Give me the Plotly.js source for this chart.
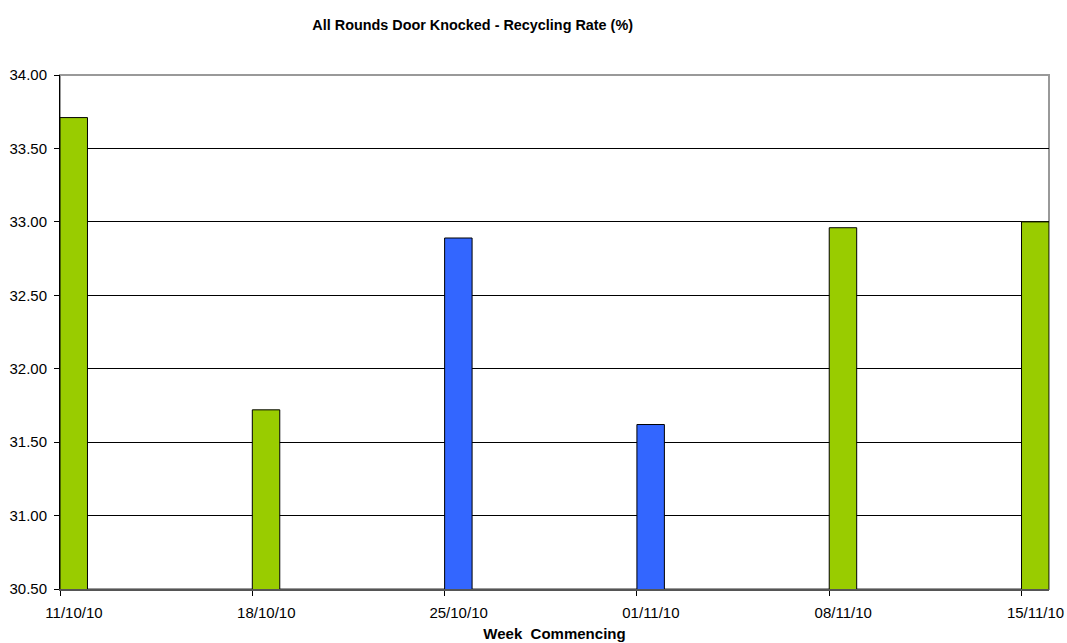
<!DOCTYPE html>
<html>
<head>
<meta charset="utf-8">
<script src="https://cdn.plot.ly/plotly-3.0.1.min.js"></script>
<style>html,body{margin:0;padding:0;background:#fff;}#chart{width:1067px;height:643px;}</style>
</head>
<body>
<div id="chart"></div>
<script>
const weeks = ['2010-10-11','2010-10-18','2010-10-25','2010-11-01','2010-11-08','2010-11-15'];
const greenValues = [33.71, 31.72, null, null, 32.96, 33.00];
const blueValues = [null, null, 32.89, 31.62, null, null];
const DAY = 86400000;

const traces = [
  {type:'bar', x:weeks, y:greenValues, offset:0, width:weeks.map(()=>DAY),
   marker:{color:'#99CC00', line:{color:'#000', width:1}}, hoverinfo:'skip'},
  {type:'bar', x:weeks, y:blueValues, offset:0, width:weeks.map(()=>DAY),
   marker:{color:'#3366FF', line:{color:'#000', width:1}}, hoverinfo:'skip'}
];

const layout = {
  width:1067, height:643,
  margin:{l:60, r:18, t:75, b:54},
  paper_bgcolor:'#fff', plot_bgcolor:'#fff',
  showlegend:false, barmode:'overlay',
  font:{family:'Liberation Sans, Arial, sans-serif', size:15, color:'#000'},
  title:{text:'<b>All Rounds Door Knocked - Recycling Rate (%)</b>', x:0.443, xanchor:'center', y:0.961, yanchor:'middle',
    font:{size:14.4, family:'Liberation Sans, Arial, sans-serif', color:'#000'}},
  xaxis:{type:'date', range:['2010-10-11','2010-11-16'], tick0:'2010-10-11', dtick:7*DAY, tickformat:'%d/%m/%y',
    ticks:'outside', ticklen:5, tickcolor:'#000', showgrid:false, zeroline:false,
    showline:true, linecolor:'#555', linewidth:2, ticklabelstandoff:4, ticklabelshift:14,
    tickfont:{size:15},
    title:{text:'<b>Week  Commencing</b>', standoff:8, font:{size:15}}},
  yaxis:{range:[30.5,34.0], dtick:0.5, tickformat:'.2f', ticks:'outside', ticklen:5, tickcolor:'#000',
    showgrid:true, gridcolor:'#000', gridwidth:1, zeroline:false, ticklabelstandoff:4,
    tickfont:{size:15},
    showline:true, linecolor:'#000', linewidth:1},
  shapes:[{type:'rect', xref:'paper', yref:'paper', x0:0, x1:1, y0:0, y1:1, line:{color:'#999', width:2}, layer:'below'}]
};

Plotly.newPlot('chart', traces, layout, {staticPlot:true, displayModeBar:false});
</script>
</body>
</html>
